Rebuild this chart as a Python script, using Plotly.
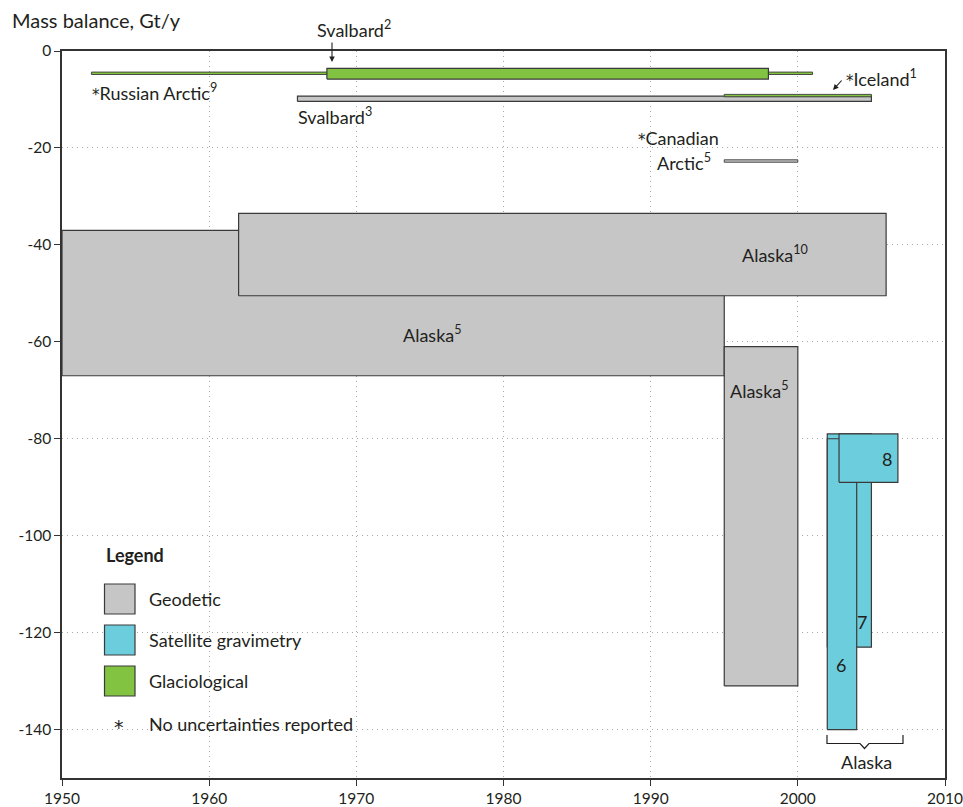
import plotly.graph_objects as go

# ---------------- data ----------------
regions = ["Russian Arctic", "Svalbard", "Svalbard", "Iceland", "Canadian Arctic",
           "Alaska", "Alaska", "Alaska", "Alaska", "Alaska", "Alaska"]
refs = [9, 2, 3, 1, 5, 5, 10, 5, 7, 6, 8]
methods = ["Glaciological", "Glaciological", "Geodetic", "Glaciological", "Geodetic",
           "Geodetic", "Geodetic", "Geodetic",
           "Satellite gravimetry", "Satellite gravimetry", "Satellite gravimetry"]
start_year = [1952, 1968, 1966, 1995, 1995, 1950, 1962, 1995, 2002, 2002, 2002.8]
end_year = [2001, 1998, 2005, 2005, 2000, 1995, 2006, 2000, 2005, 2004, 2006.8]
mass_balance = [-4.6, -4.7, -9.85, -9.2, -22.7, -52, -42, -96, -101, -110, -84]
uncertainty = [None, 1.1, 0.55, None, None, 15, 8.5, 35, 22, 30, 5]

x_ticks = [1950, 1960, 1970, 1980, 1990, 2000, 2010]
y_ticks = [0, -20, -40, -60, -80, -100, -120, -140]

legend_items = ["Geodetic", "Satellite gravimetry", "Glaciological"]

# ---------------- style ----------------
FILL = {"Geodetic": "#c6c6c6", "Satellite gravimetry": "#6ccddc", "Glaciological": "#82c341"}
EDGE = "#3a3a3a"
TXT = "#231f20"
FONT = "Lato"
LBL = 18
THIN = 0.25  # half height of bars without reported uncertainty
STAR = "<span style='font-family:DejaVu Sans;font-size:15px'>*</span>"

W, H = 963, 807
L, R, T, B = 62, 18, 51, 29
PW, PH = W - L - R, H - T - B


def px(xp, yp):
    return (xp - L) / PW, (H - B - yp) / PH


fig = go.Figure()

for i in range(len(regions)):
    half = uncertainty[i] if uncertainty[i] is not None else THIN
    y0, y1 = mass_balance[i] - half, mass_balance[i] + half
    x0, x1 = start_year[i], end_year[i]
    fig.add_trace(go.Scatter(
        x=[x0, x1, x1, x0, x0], y=[y0, y0, y1, y1, y0],
        mode="lines", fill="toself", fillcolor=FILL[methods[i]],
        line=dict(color=EDGE, width=1.2 if uncertainty[i] is not None else 0.9),
        hoverinfo="skip", showlegend=False))

annots = []


def txt(text, xp, yp, xanchor="left", size=LBL, bold=False, family=FONT):
    xx, yy = px(xp, yp)
    if bold:
        text = "<b>" + text + "</b>"
    annots.append(dict(text=text, x=xx, y=yy, xref="paper", yref="paper",
                       xanchor=xanchor, yanchor="middle", showarrow=False,
                       font=dict(family=family, size=size, color=TXT)))


# axis title
txt("Mass balance, Gt/y", 10, 20, size=20)

# labels
txt("Svalbard<sup>2</sup>", 354, 29, "center")
txt(STAR + "Russian Arctic<sup>9</sup>", 90, 92)
txt("Svalbard<sup>3</sup>", 296, 116)
txt(STAR + "Iceland<sup>1</sup>", 844, 78)
txt(STAR + "Canadian", 721, 138, "right")
txt("Arctic<sup>5</sup>", 713, 162, "right")
txt("Alaska<sup>10</sup>", 775, 254, "center")
txt("Alaska<sup>5</sup>", 432, 334, "center")
txt("Alaska<sup>5</sup>", 759, 390, "center")
txt("6", 841, 665, "center")
txt("7", 862, 622, "center")
txt("8", 887, 459, "center")
txt("Alaska", 866, 762, "center")

# arrows
for head, dx, dy in [((332, 62), 0, -21), ((833, 90), 10, -11)]:
    xx, yy = px(*head)
    annots.append(dict(text="", x=xx, y=yy, xref="paper", yref="paper",
                       ax=dx, ay=dy, showarrow=True, arrowhead=2, arrowsize=1,
                       arrowwidth=1.1, arrowcolor=TXT))

shapes = []
# legend background
x0, y0 = px(85, 750)
x1, y1 = px(372, 532)
shapes.append(dict(type="rect", xref="paper", yref="paper", x0=x0, y0=y0, x1=x1, y1=y1,
                   fillcolor="white", line=dict(width=0), layer="between"))
txt("Legend", 104, 555, bold=True)
legend_y = [599, 640, 681]
for name, yc in zip(legend_items, legend_y):
    a0, b0 = px(104.5, yc + 15)
    a1, b1 = px(135, yc - 15)
    shapes.append(dict(type="rect", xref="paper", yref="paper", x0=a0, y0=b0, x1=a1, y1=b1,
                       fillcolor=FILL[name], line=dict(color=EDGE, width=1.2), layer="above"))
    txt(name, 147, yc)
txt("*", 119, 727, "center", size=19, family="DejaVu Sans")
txt("No uncertainties reported", 147, 724)

# bracket under satellite Alaska boxes
pts = [(827, 735), (827, 743.5), (860, 743.5), (864.5, 748.5), (869, 743.5), (903, 743.5), (903, 735)]
path = ""
for k, (a, b) in enumerate(pts):
    xx, yy = px(a, b)
    path += ("M" if k == 0 else "L") + f"{xx:.5f},{yy:.5f} "
shapes.append(dict(type="path", xref="paper", yref="paper", path=path,
                   line=dict(color=TXT, width=1.2)))

axis_common = dict(showgrid=True, gridcolor="#a8a8a8", griddash="1px,4px", gridwidth=1,
                   showline=True, linecolor="#333333", linewidth=1.5, mirror=True,
                   ticks="outside", ticklen=6, tickcolor="#333333", zeroline=False,
                   automargin=False,
                   tickfont=dict(family=FONT, size=15.5, color=TXT))

fig.update_layout(
    width=W, height=H, margin=dict(l=L, r=R, t=T, b=B, autoexpand=False),
    paper_bgcolor="white", plot_bgcolor="white",
    font=dict(family=FONT, size=15, color=TXT),
    showlegend=False, annotations=annots, shapes=shapes,
    xaxis=dict(range=[1950, 2010], tickvals=x_ticks, ticktext=[str(v) for v in x_ticks],
               **axis_common),
    yaxis=dict(range=[-150, 0], tickvals=y_ticks, ticktext=[str(v) for v in y_ticks],
               **axis_common),
)

fig.write_html("out.html", config={"displayModeBar": False},
               post_script="document.body.style.margin='0';")
